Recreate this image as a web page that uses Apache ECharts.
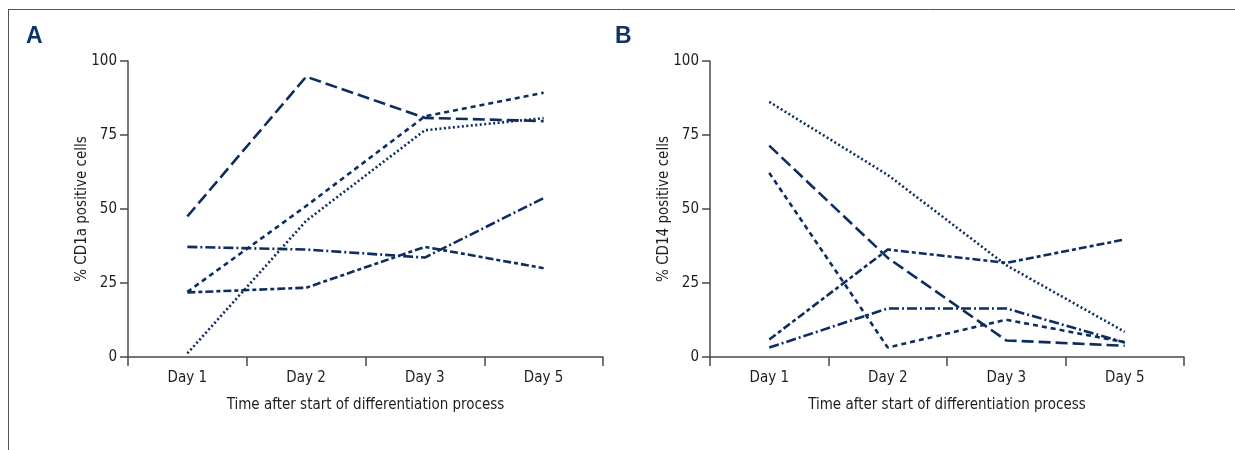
<!DOCTYPE html>
<html>
<head>
<meta charset="utf-8">
<script src="https://cdn.jsdelivr.net/npm/echarts@6/dist/echarts.min.js"></script>
<style>
  html, body { margin: 0; padding: 0; background: #fff; }
  #chart { width: 1235px; height: 450px; }
</style>
</head>
<body>
<div id="chart"></div>
<script>
// categories
const days = ["Day 1", "Day 2", "Day 3", "Day 5"];

// panel A: % CD1a positive cells
const cd1aLongDash = [47.5, 94.7, 80.8, 79.7];
const cd1aShortDash = [22, 51, 81.3, 89.3];
const cd1aDotted = [1.2, 46, 76.6, 80.7];
const cd1aDashDot = [37.2, 36.3, 33.6, 53.7];
const cd1aDashDash = [21.8, 23.4, 37.2, 30];

// panel B: % CD14 positive cells
const cd14Dotted = [86.2, 61.5, 31, 8.5];
const cd14LongDash = [71.4, 33.5, 5.6, 3.8];
const cd14ShortDash = [62.2, 3.2, 12.6, 5];
const cd14DashDot = [5.9, 36.3, 31.8, 39.7];
const cd14DashDash = [3.2, 16.4, 16.4, 4.9];

const yTicks = [0, 25, 50, 75, 100];

const FONT = "'DejaVu Sans Condensed', 'Liberation Sans', sans-serif";
const NAVY = "#0c2d5e";
const AXIS = "#4a4a4a";
const TEXT = "#1f1d1e";

// dash patterns for the five line styles
const dash = {
  long: [12, 5],
  short: [5, 4],
  dotted: [2, 2.5],
  dashDot: [10, 3, 2, 3],
  dashDash: [8, 3, 4, 3],
};

function mkSeries(data, idx, type) {
  return {
    type: "line",
    xAxisIndex: idx,
    yAxisIndex: idx,
    data: data,
    symbol: "none",
    silent: true,
    lineStyle: { color: NAVY, width: 2.6, type: dash[type], cap: "butt" },
  };
}

function xAxisCfg(idx) {
  return {
    type: "category",
    gridIndex: idx,
    data: days,
    boundaryGap: true,
    name: "Time after start of differentiation process",
    nameLocation: "middle",
    nameGap: 41,
    nameMoveOverlap: false,
    nameTextStyle: { fontFamily: FONT, fontSize: 15, color: TEXT, verticalAlign: "top" },
    axisLine: { lineStyle: { color: AXIS, width: 1.5 } },
    axisTick: { show: true, length: 9, alignWithLabel: false, lineStyle: { color: AXIS, width: 1.5 } },
    axisLabel: { fontFamily: FONT, fontSize: 15, color: TEXT, margin: 14 },
    splitLine: { show: false },
  };
}

function yAxisCfg(idx, title) {
  return {
    type: "value",
    gridIndex: idx,
    min: yTicks[0],
    max: yTicks[yTicks.length - 1],
    interval: 25,
    name: title,
    nameLocation: "middle",
    nameGap: 38,
    nameMoveOverlap: false,
    nameRotate: 90,
    nameTextStyle: { fontFamily: FONT, fontSize: 15, color: TEXT },
    axisLine: { show: true, lineStyle: { color: AXIS, width: 1.5 } },
    axisTick: { show: true, length: 8, lineStyle: { color: AXIS, width: 1.5 } },
    axisLabel: { fontFamily: FONT, fontSize: 15, color: TEXT, margin: 11 },
    splitLine: { show: false },
  };
}

const chart = echarts.init(document.getElementById("chart"), null, { renderer: "canvas" });

const option = {
  backgroundColor: "#fff",
  animation: false,
  grid: [
    { left: 128, right: 632, top: 61, bottom: 93 },
    { left: 710, right: 51, top: 61, bottom: 93 },
  ],
  xAxis: [xAxisCfg(0), xAxisCfg(1)],
  yAxis: [yAxisCfg(0, "% CD1a positive cells"), yAxisCfg(1, "% CD14 positive cells")],
  series: [
    mkSeries(cd1aLongDash, 0, "long"),
    mkSeries(cd1aShortDash, 0, "short"),
    mkSeries(cd1aDotted, 0, "dotted"),
    mkSeries(cd1aDashDot, 0, "dashDot"),
    mkSeries(cd1aDashDash, 0, "dashDash"),
    mkSeries(cd14Dotted, 1, "dotted"),
    mkSeries(cd14LongDash, 1, "long"),
    mkSeries(cd14ShortDash, 1, "short"),
    mkSeries(cd14DashDot, 1, "dashDash"),
    mkSeries(cd14DashDash, 1, "dashDot"),
  ],
  graphic: [
    // frame lines (top + left)
    { type: "line", shape: { x1: 8, y1: 9.5, x2: 1235, y2: 9.5 }, style: { stroke: "#555", lineWidth: 1 } },
    { type: "line", shape: { x1: 8.5, y1: 9, x2: 8.5, y2: 450 }, style: { stroke: "#555", lineWidth: 1 } },
    // panel letters
    { type: "text", left: 26, top: 25, style: { text: "A", fontFamily: "'Liberation Sans', sans-serif", fontWeight: "bold", fontSize: 23, fill: "#0e3466" } },
    { type: "text", left: 615, top: 25, style: { text: "B", fontFamily: "'Liberation Sans', sans-serif", fontWeight: "bold", fontSize: 23, fill: "#0e3466" } },
  ],
};

chart.setOption(option);
</script>
</body>
</html>
